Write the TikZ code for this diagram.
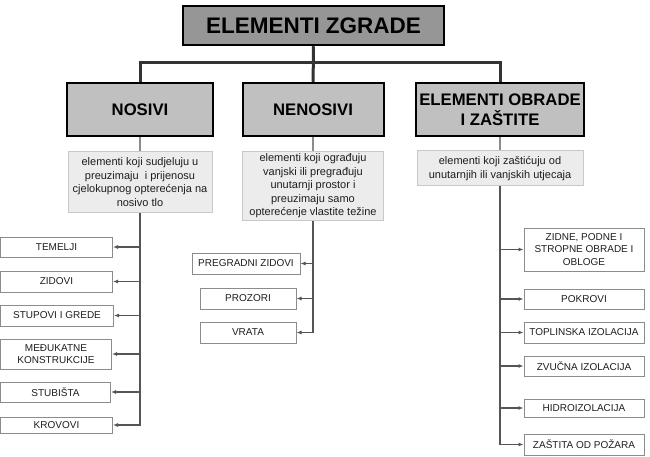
\documentclass[tikz,border=0pt]{standalone}
\usepackage{fontspec}
\setmainfont{Liberation Sans}
\usetikzlibrary{arrows.meta}
\definecolor{zg_dark}{RGB}{150, 150, 150}
\definecolor{zg_mid}{RGB}{192, 192, 192}
\definecolor{zg_light}{RGB}{236, 236, 236}
\definecolor{zg_edge}{RGB}{200, 200, 200}
\definecolor{zg_box}{RGB}{140, 140, 140}
\definecolor{zg_line}{RGB}{85, 85, 85}
\definecolor{zg_text}{RGB}{30, 30, 30}
\tikzstyle{tb}=[fill=zg_dark,draw=black,line width=2.5pt,inner sep=0pt,
  minimum width=261pt,minimum height=39pt,font=\fontsize{22.5}{26}\selectfont\bfseries]
\tikzstyle{hd}=[fill=zg_mid,draw=black,line width=2pt,inner sep=0pt,align=center,
  minimum height=53pt,font=\fontsize{16.7}{20}\selectfont\bfseries]
\tikzstyle{ds}=[fill=zg_light,draw=zg_edge,line width=1pt,inner sep=0pt,align=center,
  text=zg_text,font=\fontsize{11}{13.5}\selectfont]
\tikzstyle{lf}=[fill=white,draw=zg_box,line width=1pt,inner sep=0pt,align=center,
  text=zg_text,font=\fontsize{10}{12.5}\selectfont]
\tikzstyle{tr}=[draw=black!80,line width=3pt]
\tikzstyle{st}=[draw=zg_box,line width=1.5pt]
\tikzstyle{ar}=[draw=zg_line,line width=1.3pt,-{Latex[length=5pt,width=4pt]}]

\begin{document}
\begin{tikzpicture}[x=1pt,y=-1pt]
    \useasboundingbox (0,0) rectangle (650,457);
    \node [style=tb] (zgr) at (313.5,25.5) {ELEMENTI ZGRADE};
    \node [style=hd,minimum width=146pt] (nos) at (140,109.5) {NOSIVI};
    \node [style=hd,minimum width=141pt] (nen) at (313,109.5) {NENOSIVI};
    \node [style=hd,minimum width=168pt] (obr) at (500,109.5) {ELEMENTI OBRADE\\I ZAŠTITE};
    \node [style=ds,minimum width=144pt,minimum height=60pt] (nosd) at (140,182)
      {elementi koji sudjeluju u\\preuzimaju\ \ i prijenosu\\cjelokupnog opterećenja na\\nosivo tlo};
    \node [style=ds,minimum width=141pt,minimum height=68pt] (nend) at (313,186)
      {elementi koji ograđuju\\vanjski ili pregrađuju\\unutarnji prostor i\\preuzimaju samo\\opterećenje vlastite težine};
    \node [style=ds,minimum width=166pt,minimum height=35pt] (obrd) at (500,168.5)
      {elementi koji zaštićuju od\\unutarnjih ili vanjskih utjecaja};
    \coordinate (bar) at (313,63);
    \draw [style=tr] (zgr) -- (nen);
    \draw [style=tr] (nos.north) |- (bar) -| (obr.north);
    \draw [style=st] (nos) -- (nosd);
    \draw [style=st] (nen) -- (nend);
    \draw [style=st] (obr) -- (obrd);
    % nosivi
    \node [style=lf,minimum width=112pt,minimum height=20pt] (tem) at (56.5,247) {TEMELJI};
    \node [style=lf,minimum width=112pt,minimum height=21pt] (zid) at (56.5,281.5) {ZIDOVI};
    \node [style=lf,minimum width=113pt,minimum height=21pt] (stu) at (57,315.5) {STUPOVI I GREDE};
    \node [style=lf,minimum width=111pt,minimum height=30pt] (med) at (56,354) {MEĐUKATNE\\KONSTRUKCIJE};
    \node [style=lf,minimum width=110pt,minimum height=20pt] (stb) at (55.5,392) {STUBIŠTA};
    \node [style=lf,minimum width=112pt,minimum height=16pt] (krv) at (56.5,425) {KROVOVI};
    \draw [style=ar] (nosd.south) |- (krv.east);
    \draw [style=ar] (nosd.south |- tem) -- (tem.east);
    \draw [style=ar] (nosd.south |- zid) -- (zid.east);
    \draw [style=ar] (nosd.south |- stu) -- (stu.east);
    \draw [style=ar] (nosd.south |- med) -- (med.east);
    \draw [style=ar] (nosd.south |- stb) -- (stb.east);
    % nenosivi
    \node [style=lf,minimum width=108pt,minimum height=21pt] (pre) at (246,263.5) {PREGRADNI ZIDOVI};
    \node [style=lf,minimum width=96pt,minimum height=21pt] (pro) at (248,298.5) {PROZORI};
    \node [style=lf,minimum width=96pt,minimum height=21pt] (vra) at (248,332.5) {VRATA};
    \draw [style=ar] (nend.south) |- (vra.east);
    \draw [style=ar] (nend.south |- pre) -- (pre.east);
    \draw [style=ar] (nend.south |- pro) -- (pro.east);
    % obrada i zastita
    \node [style=lf,minimum width=120pt,minimum height=43pt] (obl) at (584,249.5) {ZIDNE, PODNE I\\STROPNE OBRADE I\\OBLOGE};
    \node [style=lf,minimum width=120pt,minimum height=20pt] (pok) at (584,299) {POKROVI};
    \node [style=lf,minimum width=120pt,minimum height=21pt] (tpl) at (584,332.5) {TOPLINSKA IZOLACIJA};
    \node [style=lf,minimum width=120pt,minimum height=20pt] (zvu) at (584,366) {ZVUČNA IZOLACIJA};
    \node [style=lf,minimum width=120pt,minimum height=18pt] (hid) at (584,408) {HIDROIZOLACIJA};
    \node [style=lf,minimum width=120pt,minimum height=21pt] (poz) at (584,444.5) {ZAŠTITA OD POŽARA};
    \draw [style=ar] (obrd.south) |- (poz.west);
    \draw [style=ar] (obrd.south |- obl) -- (obl.west);
    \draw [style=ar] (obrd.south |- pok) -- (pok.west);
    \draw [style=ar] (obrd.south |- tpl) -- (tpl.west);
    \draw [style=ar] (obrd.south |- zvu) -- (zvu.west);
    \draw [style=ar] (obrd.south |- hid) -- (hid.west);
  \end{tikzpicture}
\end{document}
